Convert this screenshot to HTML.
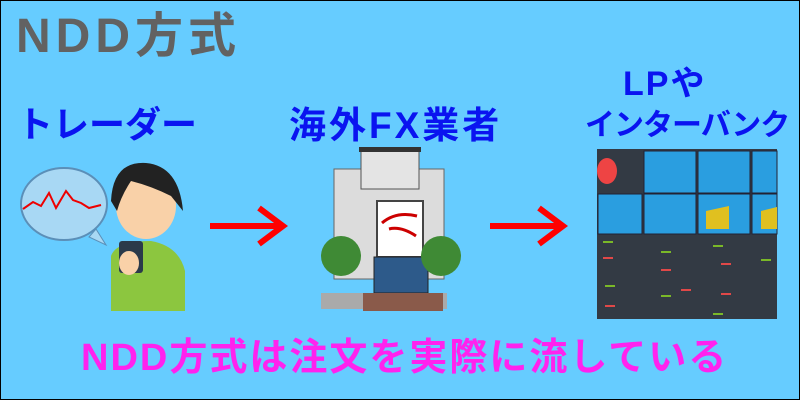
<!DOCTYPE html>
<html><head><meta charset="utf-8"><style>
body{margin:0}
#c{position:relative;width:798px;height:398px;border:1px solid #000;background:#66ccff;overflow:hidden;font-family:"Liberation Sans","Noto Sans CJK JP",sans-serif;font-weight:bold}
.t{position:absolute;white-space:nowrap;line-height:1}
</style></head><body><div id="c">
<div class="t" style="left:15px;top:12px;font-size:48px;letter-spacing:5px;color:#626262">NDD方式</div>
<div class="t" style="left:16px;top:106px;font-size:36px;color:#0a14f0">トレーダー</div>
<div class="t" style="left:288px;top:106px;font-size:37px;letter-spacing:3px;color:#0a14f0">海外FX業者</div>
<div class="t" style="left:622px;top:66px;font-size:34px;letter-spacing:2px;color:#0a14f0">LPや</div>
<div class="t" style="left:584px;top:110px;font-size:30px;letter-spacing:-1px;color:#0a14f0">インターバンク</div>
<div class="t" style="left:80px;top:338px;font-size:38px;letter-spacing:2px;color:#ff22ee">NDD方式は注文を実際に流している</div>
<svg width="798" height="398" style="position:absolute;left:0;top:0">
<g stroke="#f00" stroke-width="6" fill="none">
<line x1="209" y1="225" x2="282" y2="225"/><polyline points="258,207 282,225 258,243"/>
<line x1="489" y1="225" x2="562" y2="225"/><polyline points="538,207 562,225 538,243"/>
</g>
<ellipse cx="63" cy="203" rx="43" ry="36" fill="#a8d8f4" stroke="#5b8fb8" stroke-width="2"/>
<polyline points="22,208 32,201 40,205 48,192 55,207 65,190 72,199 80,202 88,207 100,204" stroke="#e00" stroke-width="2" fill="none"/>
<path d="M95,228 L105,244 L88,236Z" fill="#a8d8f4" stroke="#5b8fb8"/>
<path d="M110,310 L110,255 Q115,240 150,240 Q178,245 184,270 L184,310Z" fill="#8cc63f"/>
<ellipse cx="145" cy="205" rx="30" ry="33" fill="#f9d1a8"/>
<path d="M110,200 Q112,160 145,162 Q178,165 182,210 L170,195 Q150,185 130,180 Q120,195 116,210Z" fill="#222"/>
<rect x="118" y="240" width="24" height="32" rx="3" fill="#2b3a4a"/>
<ellipse cx="128" cy="262" rx="10" ry="12" fill="#f9d1a8"/>
<rect x="333" y="168" width="110" height="110" fill="#dcdcdc" stroke="#666"/>
<rect x="360" y="148" width="58" height="40" fill="#e4e4e4" stroke="#555"/>
<rect x="358" y="146" width="62" height="5" fill="#333"/>
<rect x="376" y="200" width="46" height="56" fill="#fff" stroke="#444" stroke-width="2"/>
<path d="M381,222 Q395,210 416,215" stroke="#c00" stroke-width="3" fill="none"/>
<path d="M415,235 Q400,225 388,228" stroke="#c00" stroke-width="3" fill="none"/>
<rect x="373" y="256" width="54" height="36" fill="#2d5a8a" stroke="#222"/>
<circle cx="340" cy="255" r="20" fill="#3f8a35"/><circle cx="440" cy="255" r="20" fill="#3f8a35"/>
<rect x="320" y="292" width="126" height="16" fill="#aaa"/>
<rect x="362" y="292" width="80" height="18" fill="#8a5a4a"/>
<rect x="596" y="148" width="180" height="170" fill="#333a44"/>
<g fill="#2a9ee0" stroke="#223">
<rect x="643" y="150" width="52" height="42"/><rect x="697" y="150" width="52" height="42"/><rect x="751" y="150" width="25" height="42"/>
<rect x="597" y="193" width="44" height="40"/><rect x="643" y="193" width="52" height="40"/><rect x="697" y="193" width="52" height="40"/><rect x="751" y="193" width="25" height="40"/>
</g>
<path d="M705,228 L705,210 L728,205 L728,228Z M760,228 L760,210 L776,206 L776,228Z" fill="#e0c020"/>
<ellipse cx="606" cy="170" rx="10" ry="13" fill="#e44"/>
<g stroke="#333a44" stroke-width="2"><line x1="596" y1="276" x2="776" y2="276"/><line x1="642" y1="234" x2="642" y2="318"/><line x1="696" y1="234" x2="696" y2="318"/><line x1="750" y1="234" x2="750" y2="318"/></g>
<g fill="#7ab828"><rect x="602" y="240" width="10" height="2"/><rect x="660" y="250" width="10" height="2"/><rect x="712" y="244" width="10" height="2"/><rect x="760" y="258" width="10" height="2"/><rect x="604" y="284" width="10" height="2"/><rect x="660" y="294" width="10" height="2"/><rect x="712" y="312" width="10" height="2"/></g>
<g fill="#e04848"><rect x="602" y="256" width="10" height="2"/><rect x="660" y="268" width="10" height="2"/><rect x="720" y="262" width="10" height="2"/><rect x="604" y="304" width="10" height="2"/><rect x="680" y="288" width="10" height="2"/><rect x="720" y="292" width="10" height="2"/></g>
</svg>
</div></body></html>
